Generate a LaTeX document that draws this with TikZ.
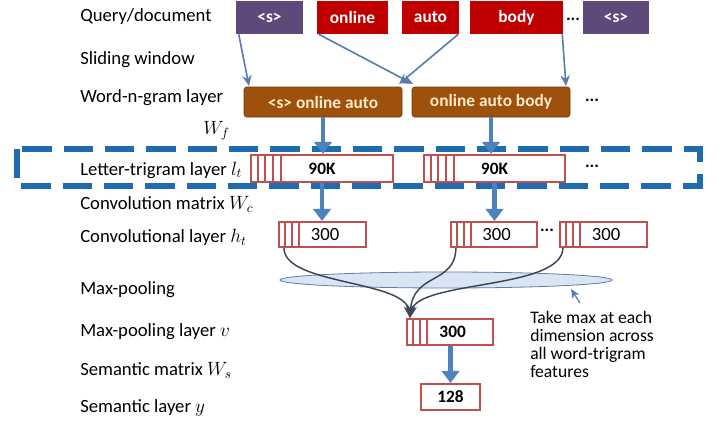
\documentclass[tikz,border=0pt]{standalone}
\usepackage{fontspec}
\setmainfont{Carlito}
\usetikzlibrary{arrows.meta,calc,shapes.geometric}
\definecolor{cpurple}{HTML}{5F497A}
\definecolor{cred}{HTML}{C00000}
\definecolor{cbrown}{HTML}{9E500D}
\definecolor{ccream}{HTML}{FDEBC8}
\definecolor{cbox}{HTML}{C0504D}
\definecolor{carrow}{HTML}{4F81BD}
\definecolor{cdash}{HTML}{1E6BB0}
\definecolor{cthin}{HTML}{5A7BAE}
\definecolor{ccurve}{HTML}{3B4656}
\definecolor{cell}{HTML}{C9DAEE}
\tikzset{
  lbl/.style={anchor=west,inner sep=0pt,font=\fontsize{14}{16}\selectfont},
  word/.style={minimum height=0.75*33,inner sep=0pt,text=white,font=\fontsize{13}{14}\selectfont\bfseries},
  gram/.style={fill=cbrown,draw=cbrown!70!black,rounded corners=2,minimum width=0.75*158,minimum height=0.75*30,inner sep=0pt,text=ccream,font=\fontsize{13}{14}\selectfont\bfseries},
  vbox/.style={draw=cbox,line width=1.6,fill=white,inner sep=0pt,font=\fontsize{13}{14}\selectfont\bfseries},
  stripe/.style={draw=cbox,line width=1.6},
  thick arrow/.style={draw=carrow,line width=3.5,-{Triangle[width=13,length=9]}},
  thin arrow/.style={draw=cthin,line width=1.2,-{Stealth[width=7,length=8]}},
  curve/.style={draw=ccurve,line width=1.1,-{Stealth[width=7,length=9]}},
  dots/.style={inner sep=0pt,font=\fontsize{13}{14}\selectfont\bfseries}
}
\begin{document}
\begin{tikzpicture}[x=0.75pt,y=-0.75pt]
\useasboundingbox[fill=white] (0,0) rectangle (722,429);
% left labels
\node[lbl] (L1) at (80,17) {Query/document};
\node[lbl] (L2) at (80,60) {Sliding window};
\node[lbl] (L3) at (80,98) {Word-n-gram layer};
\node[lbl] (L4) at (80,170) {Letter-trigram layer $l_t$};
\node[lbl] (L5) at (80,204) {Convolution matrix $W_c$};
\node[lbl] (L6) at (80,237) {Convolutional layer $h_t$};
\node[lbl] (L7) at (80,290) {Max-pooling};
\node[lbl] (L8) at (80,332) {Max-pooling layer $v$};
\node[lbl] (L9) at (80,370) {Semantic matrix $W_s$};
\node[lbl] (L10) at (80,408) {Semantic layer $y$};
% dashed frame
\draw[cdash,line width=3.8,dash pattern=on 22 off 9] (17,149) rectangle (700,186);
\node[lbl] (Wf) at (203,131) {$W_f$};
% top words
\node[word,fill=cpurple,minimum width=0.75*67] (s1) at (269.5,17.5) {<s>};
\node[word,fill=cred,minimum width=0.75*71] (on) at (352.5,17.5) {online};
\node[word,fill=cred,minimum width=0.75*57] (au) at (430.5,17.5) {auto};
\node[word,fill=cred,minimum width=0.75*93] (bo) at (516.5,17.5) {body};
\node[dots] (d1) at (573,19) {...};
\node[word,fill=cpurple,minimum width=0.75*66] (s2) at (616,17.5) {<s>};
% word n-grams
\node[gram] (g1) at (323,102) {<s> online auto};
\node[gram] (g2) at (491,102) {online auto body};
\node[dots] (d2) at (592,100) {...};
% thin arrows
\coordinate (a1) at (249,86);
\coordinate (a2) at (413,84);
\coordinate (a3) at (399,84);
\coordinate (a4) at (566,86);
\draw[thin arrow] ($(s1.south west)+(3,0)$) -- (a1);
\draw[thin arrow] ($(on.south west)+(2,0)$) -- (a2);
\draw[thin arrow] ($(au.south east)+(-1,0)$) -- (a3);
\draw[thin arrow] ($(bo.south east)+(-1,0)$) -- (a4);
% letter-trigram
\node[vbox,minimum width=0.75*142,minimum height=0.75*27] (t1) at (322,168.5) {90K};
\node[vbox,minimum width=0.75*141,minimum height=0.75*27] (t2) at (494.5,168.5) {90K};
\node[dots] (d3) at (592,166) {...};
\foreach \n in {t1,t2}{\foreach \k in {1,2,3,4}{\draw[stripe] ($(\n.north west)+(\k*7.7,0)$) -- ($(\n.south west)+(\k*7.7,0)$);}}
\draw[thick arrow] (g1.south) -- (g1.south |- t1.north);
\draw[thick arrow] (g2.south) -- (g2.south |- t2.north);
% conv
\node[vbox,minimum width=0.75*87,minimum height=0.75*25,font=\fontsize{14}{14}\selectfont] (c1) at (322.5,234.5) {\hspace*{4pt}300};
\node[vbox,minimum width=0.75*86,minimum height=0.75*25,font=\fontsize{14}{14}\selectfont] (c2) at (494,234.5) {\hspace*{4pt}300};
\node[dots] (d4) at (547,230) {...};
\node[vbox,minimum width=0.75*87,minimum height=0.75*25,font=\fontsize{14}{14}\selectfont] (c3) at (603.5,234.5) {\hspace*{4pt}300};
\foreach \n in {c1,c2,c3}{\foreach \k in {1,2,3}{\draw[stripe] ($(\n.north west)+(\k*7,0)$) -- ($(\n.south west)+(\k*7,0)$);}}
\draw[thick arrow] (t1.south) -- (t1.south |- c1.north);
\draw[thick arrow] (t2.south) -- (t2.south |- c2.north);
% pooling ellipse
\node[draw=cthin!80!gray,line width=0.6,fill=cell,fill opacity=0.7,ellipse,minimum width=0.75*332,minimum height=0.75*16,inner sep=0pt] (el) at (446,280) {};
% max-pooling box
\node[vbox,minimum width=0.75*86,minimum height=0.75*26] (mp) at (450,332) {\hspace*{4pt}300};
\foreach \k in {1,2,3}{\draw[stripe] ($(mp.north west)+(\k*7,0)$) -- ($(mp.south west)+(\k*7,0)$);}
\coordinate (mpin) at ($(mp.north west)+(4,0)$);
\draw[curve] ($(c1.south west)+(6,0)$) .. controls (284,285) and (405,280) .. (mpin);
\draw[curve] ($(c2.south west)+(6,0)$) .. controls (455,285) and (413,272) .. (mpin);
\draw[curve] ($(c3.south west)+(4,0)$) .. controls (562,290) and (418,280) .. (mpin);
% semantic
\node[vbox,minimum width=0.75*59,minimum height=0.75*26] (se) at (450.5,397) {128};
\draw[thick arrow] (mp.south -| se.north) -- (se.north);
% annotation
\node[anchor=north west,inner sep=0pt,align=left,font=\fontsize{13.2}{13.5}\selectfont] (note) at (530,311) {Take max at each\\dimension across\\all word-trigram\\features};
\coordinate (na) at (571,289);
\draw[draw=cthin,line width=0.9,-{Stealth[width=6,length=7]}] (580,303) -- (na);
\end{tikzpicture}
\end{document}
